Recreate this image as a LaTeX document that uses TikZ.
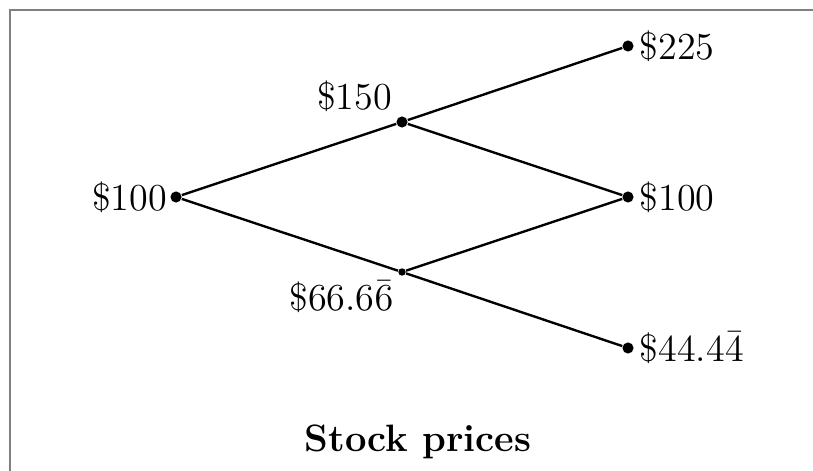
\documentclass[tikz,border=0pt]{standalone}
\begin{document}
\begin{tikzpicture}[x=0.3777pt,y=-0.3777pt,
  bigdot/.style={circle,fill=black,inner sep=0pt,minimum size=4.2pt},
  smalldot/.style={circle,fill=black,inner sep=0pt,minimum size=2.8pt},
  price/.style={font=\Large},
  edge/.style={line width=0.9pt}]
\useasboundingbox (0,0) rectangle (813,471);
\draw[gray,line width=0.8pt] (813,10) -- (10,10) -- (10,471);
\node[bigdot] (r) at (176,197) {};
\node[bigdot] (u) at (402,122) {};
\node[smalldot] (d) at (402,272) {};
\node[bigdot] (uu) at (628,46) {};
\node[bigdot] (ud) at (628,197) {};
\node[bigdot] (dd) at (628,348) {};
\draw[edge] (r) -- (u);
\draw[edge] (r) -- (d);
\draw[edge] (u) -- (uu);
\draw[edge] (u) -- (ud);
\draw[edge] (d) -- (ud);
\draw[edge] (d) -- (dd);
\node[price,left,inner sep=1pt] (lr) at (r.west) {\$100};
\node[price,above left,inner sep=2pt] (lu) at (u.north west) {\$150};
\node[price,below left,inner sep=2pt] (ld) at (d.south west) {\$66.6$\bar{6}$};
\node[price,right,inner sep=2pt] (luu) at (uu.east) {\$225};
\node[price,right,inner sep=2pt] (lud) at (ud.east) {\$100};
\node[price,right,inner sep=2pt] (ldd) at (dd.east) {\$44.4$\bar{4}$};
\node[font=\Large\bfseries] (title) at (418,442) {Stock prices};
\end{tikzpicture}
\end{document}
